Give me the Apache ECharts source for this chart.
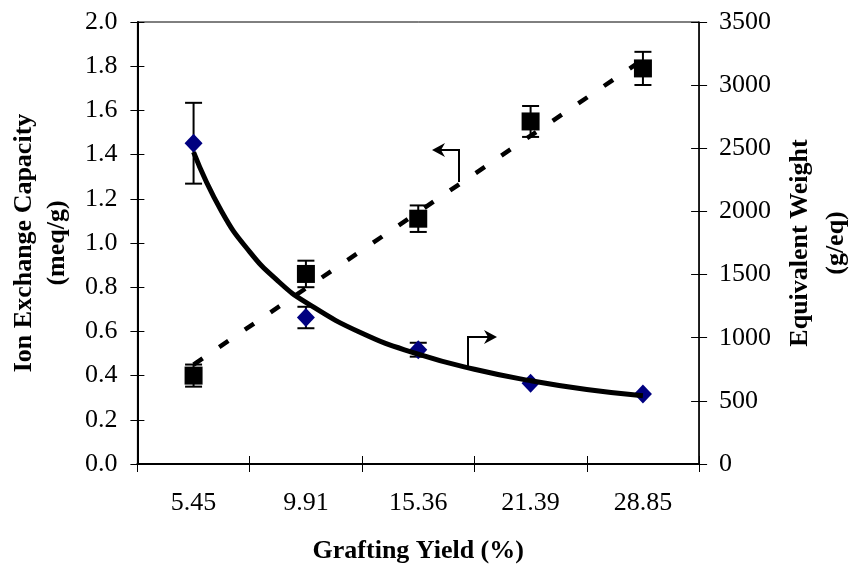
<!DOCTYPE html>
<html>
<head>
<meta charset="utf-8">
<script src="https://cdn.jsdelivr.net/npm/echarts@6/dist/echarts.min.js"></script>
<style>
  html, body { margin: 0; padding: 0; background: #fff; }
  #chart { width: 862px; height: 569px; }
</style>
</head>
<body>
<div id="chart"></div>
<script>
// grafting yield categories (%)
const grafting = ['5.45', '9.91', '15.36', '21.39', '28.85']
// ion exchange capacity (meq/g), left axis
const iec = [0.40, 0.86, 1.11, 1.55, 1.79]
const iecErr = [0.05, 0.06, 0.06, 0.07, 0.075]
// equivalent weight (g/eq), right axis
const ew = [2540, 1160, 905, 640, 555]
const ewErr = [320, 85, 55, 0, 0]
// trendlines (x = category position 1..5)
const iecTrend = [[1, 0.45], [5, 1.83]]
const ewCurve = [
  [1, 2470], [1.25, 2000], [1.5, 1680], [1.75, 1450], [2, 1280],
  [2.5, 1035], [3, 870], [3.5, 750], [4, 660], [4.5, 590], [5, 540]
]

const font = 'Liberation Serif, Times New Roman, serif'
const black = '#000'

const errorBars = (values, errs) =>
  values.map((v, i) => [i, v - errs[i], v + errs[i]]).filter((d, i) => errs[i] > 0)

const renderError = (params, api) => {
  const lo = api.coord([api.value(0), api.value(1)])
  const hi = api.coord([api.value(0), api.value(2)])
  const half = 8.5
  const style = { stroke: black, lineWidth: 2 }
  return {
    type: 'group',
    children: [
      { type: 'line', shape: { x1: lo[0], y1: lo[1], x2: hi[0], y2: hi[1] }, style },
      { type: 'line', shape: { x1: hi[0] - half, y1: hi[1], x2: hi[0] + half, y2: hi[1] }, style },
      { type: 'line', shape: { x1: lo[0] - half, y1: lo[1], x2: lo[0] + half, y2: lo[1] }, style }
    ]
  }
}

const chart = echarts.init(document.getElementById('chart'))

const tickStyle = { color: black, width: 1 }
const labelStyle = { fontFamily: font, fontSize: 26, color: black }
const titleStyle = { fontFamily: font, fontWeight: 'bold', fontSize: 26, color: black }

const option = {
  animation: false,
  backgroundColor: '#fff',
  textStyle: { fontFamily: font, color: black },
  grid: {
    left: 133, right: 147, top: 22, bottom: 90,
    show: true, borderColor: black, borderWidth: 1
  },
  xAxis: [
    {
      type: 'category',
      data: grafting,
      boundaryGap: true,
      name: 'Grafting Yield (%)',
      nameLocation: 'middle',
      nameGap: 74,
      nameTextStyle: titleStyle,
      axisLine: { lineStyle: { color: black, width: 2 } },
      axisTick: { show: true, length: 8, lineStyle: tickStyle },
      axisLabel: { ...labelStyle, margin: 26 },
      splitLine: { show: false }
    },
    { type: 'value', min: 0.5, max: 5.5, show: false },
    {
      type: 'category',
      data: grafting,
      boundaryGap: true,
      position: 'bottom',
      axisLine: { show: false },
      axisTick: { show: true, inside: true, length: 8, lineStyle: tickStyle },
      axisLabel: { show: false },
      splitLine: { show: false }
    }
  ],
  yAxis: [
    {
      type: 'value',
      min: 0, max: 2, interval: 0.2,
      position: 'left',
      name: 'Ion Exchange Capacity\n(meq/g)',
      nameLocation: 'middle',
      nameRotate: 90,
      nameGap: 62,
      nameTextStyle: { ...titleStyle, lineHeight: 33 },
      axisLine: { show: true, lineStyle: { color: black, width: 2 } },
      axisTick: { show: true, length: 7, lineStyle: tickStyle },
      axisLabel: { ...labelStyle, margin: 20, formatter: v => v.toFixed(1) },
      splitLine: { show: false }
    },
    {
      type: 'value',
      min: 0, max: 3500, interval: 500,
      position: 'right',
      name: 'Equivalent Weight\n(g/eq)',
      nameLocation: 'middle',
      nameRotate: 90,
      nameGap: 78,
      nameTextStyle: { ...titleStyle, lineHeight: 36 },
      axisLine: { show: true, lineStyle: { color: black, width: 1.5 } },
      axisTick: { show: true, length: 8, lineStyle: tickStyle },
      axisLabel: { ...labelStyle, margin: 20, formatter: v => String(v) },
      splitLine: { show: false }
    },
    {
      type: 'value', min: 0, max: 2, interval: 0.2, position: 'left',
      axisLine: { show: false },
      axisTick: { show: true, inside: true, length: 7, lineStyle: tickStyle },
      axisLabel: { show: false }, splitLine: { show: false }
    },
    {
      type: 'value', min: 0, max: 3500, interval: 500, position: 'right',
      axisLine: { show: false },
      axisTick: { show: true, inside: true, length: 8, lineStyle: tickStyle },
      axisLabel: { show: false }, splitLine: { show: false }
    }
  ],
  series: [
    {
      type: 'custom',
      xAxisIndex: 0, yAxisIndex: 0,
      renderItem: renderError,
      encode: { x: 0, y: [1, 2] },
      data: errorBars(iec, iecErr),
      z: 1
    },
    {
      type: 'custom',
      xAxisIndex: 0, yAxisIndex: 1,
      renderItem: renderError,
      encode: { x: 0, y: [1, 2] },
      data: errorBars(ew, ewErr),
      z: 1
    },
    {
      type: 'scatter',
      xAxisIndex: 0, yAxisIndex: 0,
      symbol: 'rect', symbolSize: 18,
      itemStyle: { color: black, opacity: 1 },
      data: iec,
      z: 2
    },
    {
      type: 'scatter',
      xAxisIndex: 0, yAxisIndex: 1,
      symbol: 'diamond', symbolSize: [18, 19],
      itemStyle: { color: '#000080', opacity: 1 },
      data: ew,
      z: 2
    },
    {
      type: 'line',
      xAxisIndex: 1, yAxisIndex: 0,
      data: iecTrend,
      showSymbol: false,
      lineStyle: { color: black, width: 4.5, type: [11, 20], cap: 'butt' },
      z: 3
    },
    {
      type: 'line',
      xAxisIndex: 1, yAxisIndex: 1,
      data: ewCurve,
      smooth: true,
      showSymbol: false,
      lineStyle: { color: black, width: 5 },
      z: 3
    }
  ],
  graphic: [
    { type: 'polyline', shape: { points: [[459, 182], [459, 150], [436, 150]] }, style: { stroke: black, lineWidth: 2, fill: null } },
    { type: 'polygon', shape: { points: [[432, 150], [445, 143], [441, 150], [445, 157]] }, style: { fill: black } },
    { type: 'polyline', shape: { points: [[468, 368], [468, 337], [493, 337]] }, style: { stroke: black, lineWidth: 2, fill: null } },
    { type: 'polygon', shape: { points: [[497, 337], [484, 330], [488, 337], [484, 344]] }, style: { fill: black } }
  ]
}

chart.setOption(option)
</script>
</body>
</html>
